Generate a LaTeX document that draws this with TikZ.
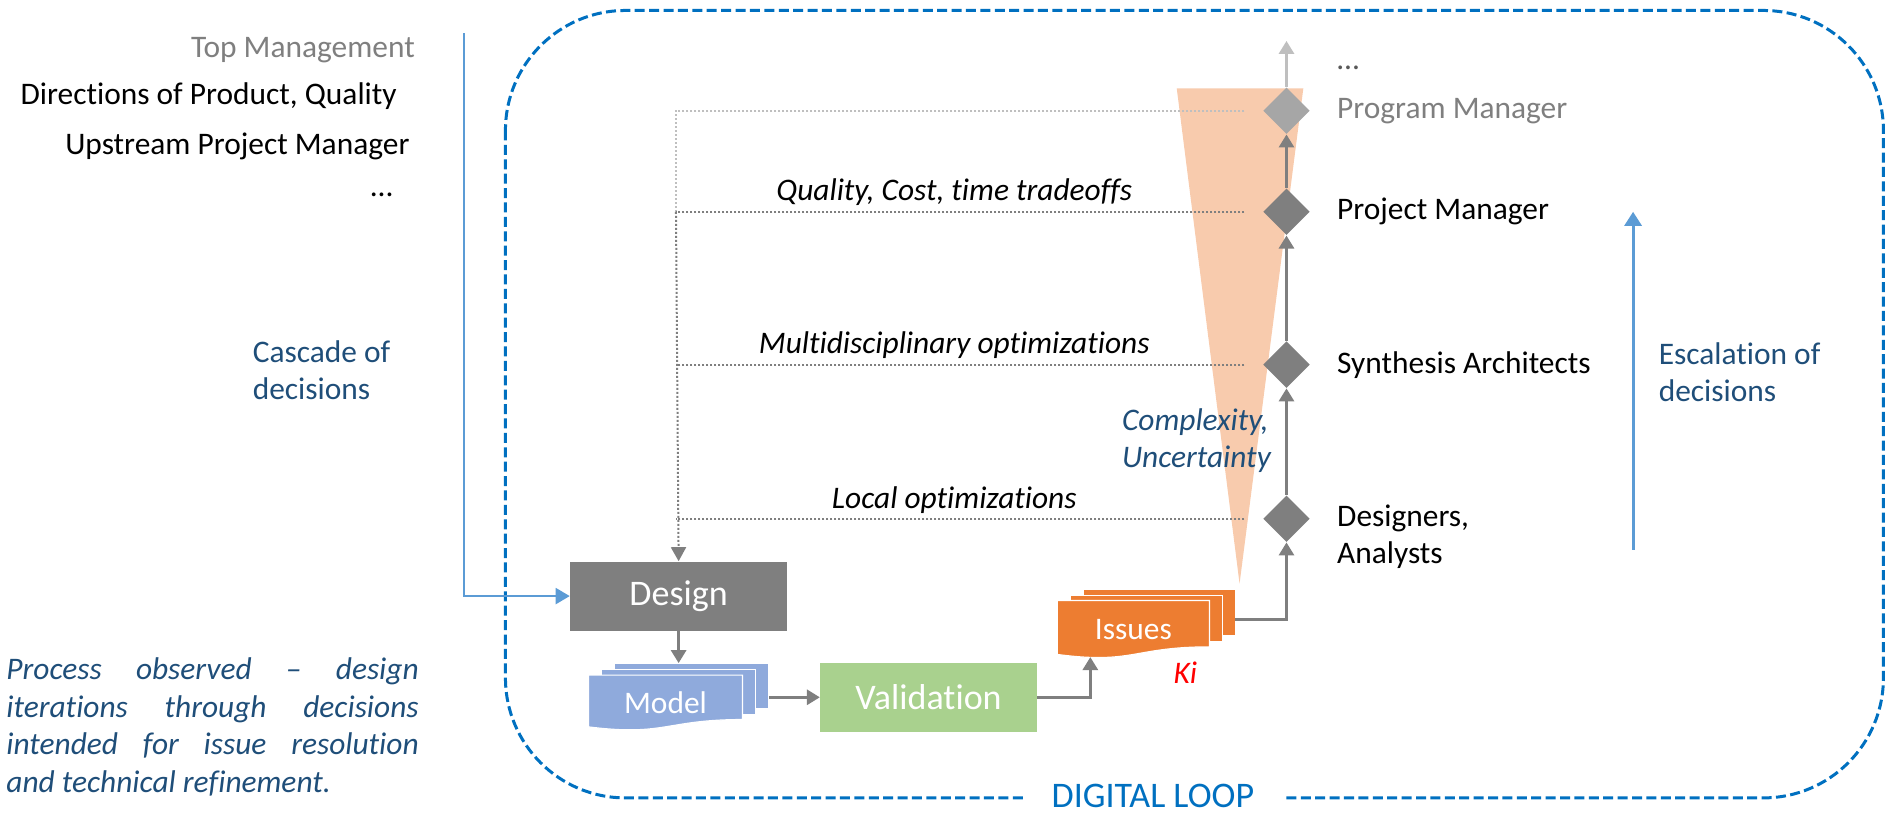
\documentclass[tikz,border=0pt]{standalone}
\usepackage{fontspec}
\setmainfont{Carlito}[Ligatures=NoCommon]
\usetikzlibrary{shapes.geometric,arrows.meta,calc}

\definecolor{boxgray}{HTML}{7F7F7F}
\definecolor{midgray}{HTML}{A6A6A6}
\definecolor{palegray}{HTML}{BFBFBF}
\definecolor{dotsgray}{HTML}{595959}
\definecolor{navytext}{HTML}{1F4E79}
\definecolor{linkblue}{HTML}{5B9BD5}
\definecolor{loopblue}{HTML}{0070C0}
\definecolor{wedge}{HTML}{F8CBAD}
\definecolor{issuesorange}{HTML}{ED7D31}
\definecolor{modelblue}{HTML}{8FAADC}
\definecolor{validgreen}{HTML}{A9D18E}

\newcommand{\uu}{0.6017pt}
\newcommand{\txt}{\fontsize{15.7}{18.5}\selectfont}
\newcommand{\bigtxt}{\fontsize{18}{21}\selectfont}
\newcommand{\notetxt}{\fontsize{15.7}{18.9}\selectfont\itshape}
\hyphenpenalty=10000

\begin{document}
\begin{tikzpicture}[x=0.6017pt,y=-0.6017pt,
  lbl/.style={inner sep=0pt, font=\txt},
  ilbl/.style={inner sep=0pt, font=\txt\itshape},
  garrow/.style={draw=boxgray, line width=1.5pt, -{Triangle[length=6.5pt,width=7.5pt]}},
  dotline/.style={line width=1pt, dash pattern=on 1pt off 1pt},
  decision/.style={diamond, aspect=1, fill=boxgray, inner sep=0pt,
    minimum width=38.8*\uu, minimum height=38.8*\uu},
  layer/.style={draw=white, line width=0.6pt, inner sep=0pt, anchor=north west},
  procbox/.style={minimum height=57.3*\uu, text=white, font=\bigtxt, inner sep=0pt}]

\useasboundingbox (0,0) rectangle (1568,676);

% digital loop frame
\draw[loopblue, line width=1.5pt, dash pattern=on 5pt off 2.2pt, rounded corners=60pt]
  (420,8.7) rectangle (1565,663);
\node[fill=white, inner xsep=14pt, inner ysep=1pt, text=loopblue, font=\bigtxt] (loop) at (958,661) {DIGITAL LOOP};

% complexity wedge
\fill[wedge] (977.8,73.4) -- (1083,73.4) -- (1030,485) -- cycle;

% decision levels
\node[decision, fill=midgray] (pgm) at (1069,92) {};
\node[decision] (pjm) at (1069,176) {};
\node[decision] (syn) at (1069,303) {};
\node[decision] (des) at (1069,431) {};

\node[lbl, anchor=west, text=boxgray] (pgmlbl) at (1110.8,92) {Program Manager};
\node[lbl, anchor=west] (pjmlbl) at (1110.8,176) {Project Manager};
\node[lbl, anchor=west] (synlbl) at (1110.8,303) {Synthesis Architects};
\node[lbl, anchor=north west, align=left] (deslbl) at (1110.8,419) {Designers,\\Analysts};
\node[lbl, anchor=west, text=dotsgray] (more) at (1111,56) {…};

\coordinate (topTip) at (1069,34);
\draw[garrow, draw=palegray] (pgm.north) -- (topTip);
\draw[garrow] (pjm.north) -- (pgm.south);
\draw[garrow] (syn.north) -- (pjm.south);
\draw[garrow] (des.north) -- (syn.south);

% process boxes
\node[procbox, fill=boxgray, minimum width=180.3*\uu] (design) at (563.9,495.3) {Design};
\node[procbox, fill=validgreen, minimum width=180*\uu] (validation) at (771.6,579.4) {Validation};

% model documents
\node[layer, fill=modelblue, minimum width=128*\uu, minimum height=37*\uu] (modelback) at (510,551) {};
\node[layer, fill=modelblue, minimum width=128*\uu, minimum height=37*\uu] (modelmid) at (499.5,556) {};
\path[fill=modelblue, draw=white, line width=0.6pt]
  (489,561) -- (617,561) -- (617,597.9) .. controls (553,597.9) and (553,612) .. (489,604) -- cycle;
\node[lbl, text=white] (model) at (553,584) {Model};

% issue documents
\node[layer, fill=issuesorange, minimum width=126.5*\uu, minimum height=38.5*\uu] (issuesback) at (899.5,489) {};
\node[layer, fill=issuesorange, minimum width=126.5*\uu, minimum height=38.5*\uu] (issuesmid) at (889,494) {};
\path[fill=issuesorange, draw=white, line width=0.6pt]
  (878.5,499) -- (1005,499) -- (1005,537.5) .. controls (941.75,537.5) and (941.75,552.2) .. (878.5,543.8) -- cycle;
\node[lbl, text=white] (issues) at (941.75,523) {Issues};
\node[ilbl, text=red] (ki) at (985,559) {Ki};

% process flow
\coordinate (issuesFoot) at (906,546);
\coordinate (issuesOut) at (1026,515);
\draw[garrow] (design.south) -- (design.south |- modelback.north);
\draw[garrow] (modelback.east |- validation.west) -- (validation.west);
\draw[garrow] (validation.east) -| (issuesFoot);
\draw[garrow] (issuesOut) -| (des.south);

% decisions fed back to design
\coordinate (fbTop) at (561.7,92);
\coordinate (fbPjm) at (561.7,176);
\coordinate (fbSyn) at (561.7,303);
\coordinate (fbDes) at (561.7,431);
\coordinate (tapPgm) at (1034,92);
\coordinate (tapPjm) at (1034,176);
\coordinate (tapSyn) at (1034,303);
\coordinate (tapDes) at (1034,431);
\draw[dotline, palegray] (tapPgm) -- (fbTop) -- (fbPjm);
\draw[dotline, boxgray] (tapPjm) -- (fbPjm);
\draw[dotline, boxgray] (tapSyn) -- (fbSyn);
\draw[dotline, boxgray] (tapDes) -- (fbDes);
\draw[dotline, boxgray, -{Triangle[length=7pt,width=7.5pt]}] (fbPjm) -- (design.north);

\node[ilbl] (tradeoffs) at (793,160) {Quality, Cost, time tradeoffs};
\node[ilbl] (multi) at (793,287) {Multidisciplinary optimizations};
\node[ilbl] (local) at (793,415.5) {Local optimizations};
\node[ilbl, text=navytext, anchor=west, align=left] (complexity) at (932,366.5) {Complexity,\\Uncertainty};

% upstream stakeholders
\node[lbl, anchor=east, text=boxgray] (topmgmt) at (345,41.5) {Top Management};
\node[lbl, anchor=east] (directions) at (330,80) {Directions of Product, Quality};
\node[lbl, anchor=east] (upstream) at (340.5,122) {Upstream Project Manager};
\node[lbl, anchor=east] (upmore) at (326.5,162) {…};

% cascade and escalation
\coordinate (cascadeTop) at (385.8,27.7);
\draw[linkblue, line width=1pt, -{Triangle[length=7pt,width=8pt]}] (cascadeTop) |- (design.west);
\node[lbl, text=navytext, anchor=west, align=left] (cascade) at (209.7,307.4) {Cascade of\\decisions};

\coordinate (escFoot) at (1357,457);
\coordinate (escHead) at (1357,176);
\draw[linkblue, line width=1.5pt, -{Triangle[length=7pt,width=8.5pt]}] (escFoot) -- (escHead);
\node[lbl, text=navytext, anchor=west, align=left] (escalation) at (1378,309) {Escalation of\\decisions};

% caption
\node[inner sep=0pt, anchor=north west, text width=342.6*\uu, align=justify,
  font=\notetxt, text=navytext] (note) at (5,546)
  {Process observed – design\linebreak iterations through decisions\linebreak intended for issue resolution\linebreak and technical refinement.};
\end{tikzpicture}
\end{document}
